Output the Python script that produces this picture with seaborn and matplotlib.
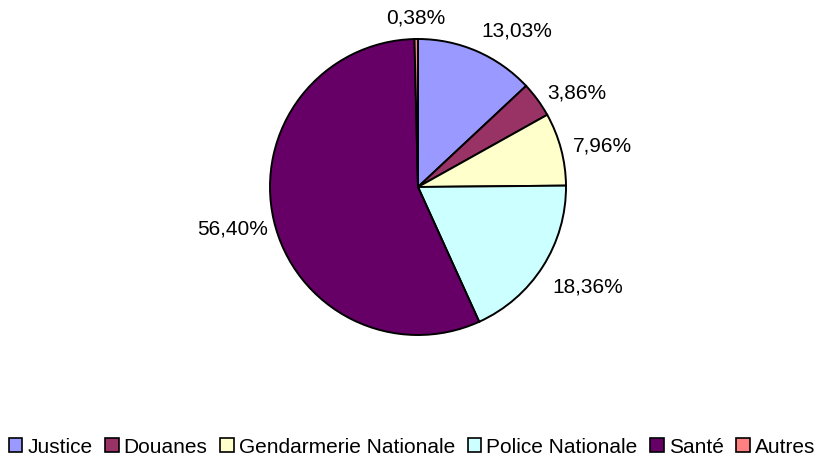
"""
Pie chart: share by service
"""

import numpy as np
import matplotlib
matplotlib.use("Agg")
import matplotlib.pyplot as plt
from matplotlib.patches import Patch
import seaborn as sns

categories = ["Justice", "Douanes", "Gendarmerie Nationale", "Police Nationale", "Santé", "Autres"]
shares = [13.03, 3.86, 7.96, 18.36, 56.40, 0.38]
share_labels = ["13,03%", "3,86%", "7,96%", "18,36%", "56,40%", "0,38%"]
colors = ["#9999FF", "#993366", "#FFFFCC", "#CCFFFF", "#660066", "#FF8080"]

sns.set_theme(style="white")
plt.rcParams["font.family"] = ["Liberation Sans", "DejaVu Sans"]
plt.rcParams["text.color"] = "black"

W, H = 824, 461
fig = plt.figure(figsize=(W / 100, H / 100), dpi=100)
ax = fig.add_axes([0, 0, 1, 1])

# pie geometry in pixels
cx, cy, rad = 418, 187, 148
palette = sns.color_palette(colors)

wedges, _ = ax.pie(
    shares,
    colors=palette,
    startangle=90,
    counterclock=False,
    radius=1.0,
    wedgeprops=dict(edgecolor="black", linewidth=1.4),
)

# labels placed just outside each wedge, Excel style
for w, lab in zip(wedges, share_labels):
    mid = np.deg2rad((w.theta1 + w.theta2) / 2)
    c, s = np.cos(mid), np.sin(mid)
    x, y = 1.08 * c, 1.08 * s
    ha = "left" if c > 0.1 else ("right" if c < -0.1 else "center")
    if s > 0.7:
        va = "bottom"
    elif s < -0.5:
        va = "top"
        y -= 0.03
    else:
        va = "center"
        if c < 0:
            y -= 0.04
    if c < -0.1:
        x += 0.04
    ax.text(x, y, lab, ha=ha, va=va, fontsize=15, color="black")

ax.set_xlim(-cx / rad, (W - cx) / rad)
ax.set_ylim(-(H - cy) / rad, cy / rad)
ax.set_aspect("equal")
ax.axis("off")

handles = [Patch(facecolor=palette[i], edgecolor="black", linewidth=1.2) for i in range(len(categories))]
leg = fig.legend(
    handles,
    categories,
    loc="center",
    bbox_to_anchor=(0.5, 1 - 447 / H),
    ncol=6,
    frameon=False,
    fontsize=15,
    handlelength=0.65,
    handleheight=0.65,
    handletextpad=0.25,
    columnspacing=0.6,
    borderaxespad=0,
)
for t in leg.get_texts():
    t.set_color("black")

fig.savefig("out.png", dpi=100, facecolor="white")
plt.close()
